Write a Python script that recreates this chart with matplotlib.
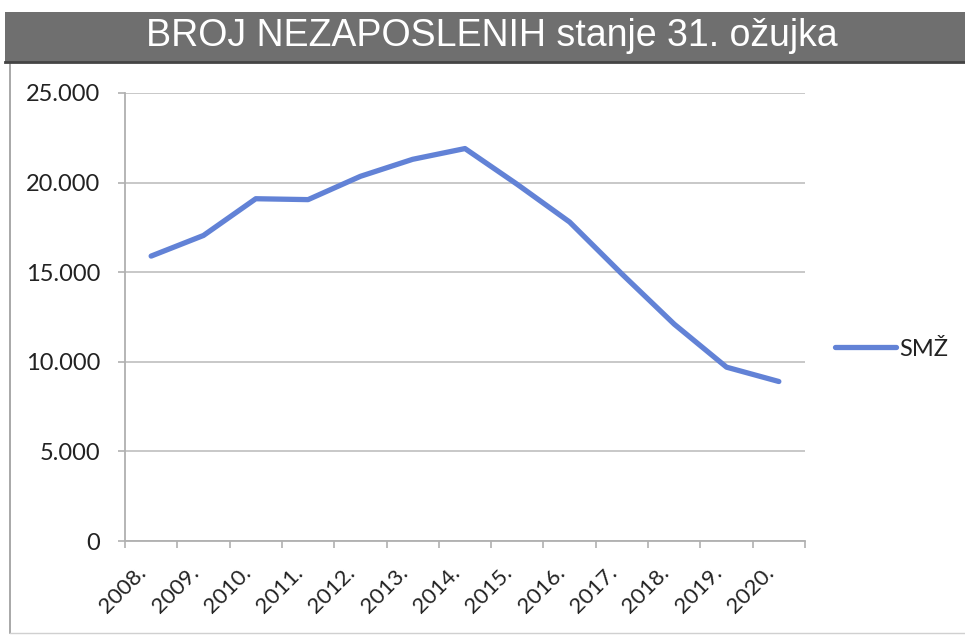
import matplotlib
matplotlib.use("Agg")
import matplotlib.pyplot as plt
from matplotlib.patches import Rectangle
from matplotlib.lines import Line2D
from matplotlib.transforms import ScaledTranslation
from matplotlib.ticker import FuncFormatter, FixedLocator

years = ["2008.", "2009.", "2010.", "2011.", "2012.", "2013.", "2014.",
         "2015.", "2016.", "2017.", "2018.", "2019.", "2020."]
smz = [15900, 17050, 19100, 19050, 20350, 21300, 21900,
       19900, 17800, 14900, 12100, 9700, 8900]
series_name = "SMŽ"
title = "BROJ NEZAPOSLENIH stanje 31. ožujka"
yticks = [0, 5000, 10000, 15000, 20000, 25000]

W, H = 965, 636
fig = plt.figure(figsize=(W / 100, H / 100), dpi=100)
fig.patch.set_facecolor("white")

def fx(px):
    return px / W

def fy(py):
    return 1 - py / H

# chart frame
fig.add_artist(Line2D([fx(10), fx(10)], [fy(63), fy(633)], color="#9a9a9a", lw=1.2))
fig.add_artist(Line2D([fx(10), fx(965)], [fy(633), fy(633)], color="#d0d0d0", lw=1.0))

# title banner
fig.add_artist(Rectangle((fx(5), fy(63)), fx(965) - fx(5), fy(12) - fy(63),
                         transform=fig.transFigure, facecolor="#6f6f6f",
                         edgecolor="none"))
fig.add_artist(Line2D([fx(5), fx(965)], [fy(62), fy(62)], color="#444444", lw=2))
fig.text(fx(492), fy(36), title, color="white", fontsize=27,
         family="Liberation Sans", ha="center", va="center")

ax = fig.add_axes([fx(125), fy(541), fx(805) - fx(125), fy(93) - fy(541)])
x = list(range(len(years)))
ax.plot(x, smz, color="#6282d6", lw=3.8, solid_capstyle="round",
        solid_joinstyle="round", label=series_name)

ax.set_xlim(-0.5, len(years) - 0.5)
ax.set_ylim(0, 25000)
ax.set_yticks(yticks)
ax.yaxis.set_major_formatter(FuncFormatter(
    lambda v, p: f"{int(v):,}".replace(",", ".")))
ax.grid(axis="y", color="#c4c4c4", lw=1.3)
ax.set_axisbelow(True)

for s in ["top", "right"]:
    ax.spines[s].set_visible(False)
ax.spines["left"].set_color("#b0b0b0")
ax.spines["bottom"].set_color("#b0b0b0")
ax.spines["left"].set_linewidth(1.3)
ax.spines["bottom"].set_linewidth(1.3)

ax.tick_params(axis="y", direction="out", length=5, width=1.2, color="#b0b0b0",
               pad=13, labelsize=17, labelcolor="#222222")
ax.set_xticks(x)
ax.set_xticklabels(years)
ax.xaxis.set_minor_locator(FixedLocator([i - 0.5 for i in range(len(years) + 1)]))
ax.tick_params(axis="x", which="major", length=0, pad=0, labelsize=16,
               labelcolor="#222222")
ax.tick_params(axis="x", which="minor", direction="out", length=5, width=1.2,
               color="#b0b0b0")
for lab in ax.get_xticklabels():
    lab.set_family("Lato")
    lab.set_rotation(45)
    lab.set_ha("right")
    lab.set_va("center")
    lab.set_rotation_mode("anchor")
    lab.set_transform(lab.get_transform() +
                      ScaledTranslation(-0.08, -0.29, fig.dpi_scale_trans))
for lab in ax.get_yticklabels():
    lab.set_family("Lato")

ax.legend(loc="center left", bbox_to_anchor=(fx(835), fy(349)),
          bbox_transform=fig.transFigure, frameon=False, handlelength=2.6,
          handletextpad=0.1, prop={"family": "Lato", "size": 17},
          labelcolor="#222222", borderpad=0, borderaxespad=0)

fig.savefig("out.png", dpi=100, facecolor="white")
